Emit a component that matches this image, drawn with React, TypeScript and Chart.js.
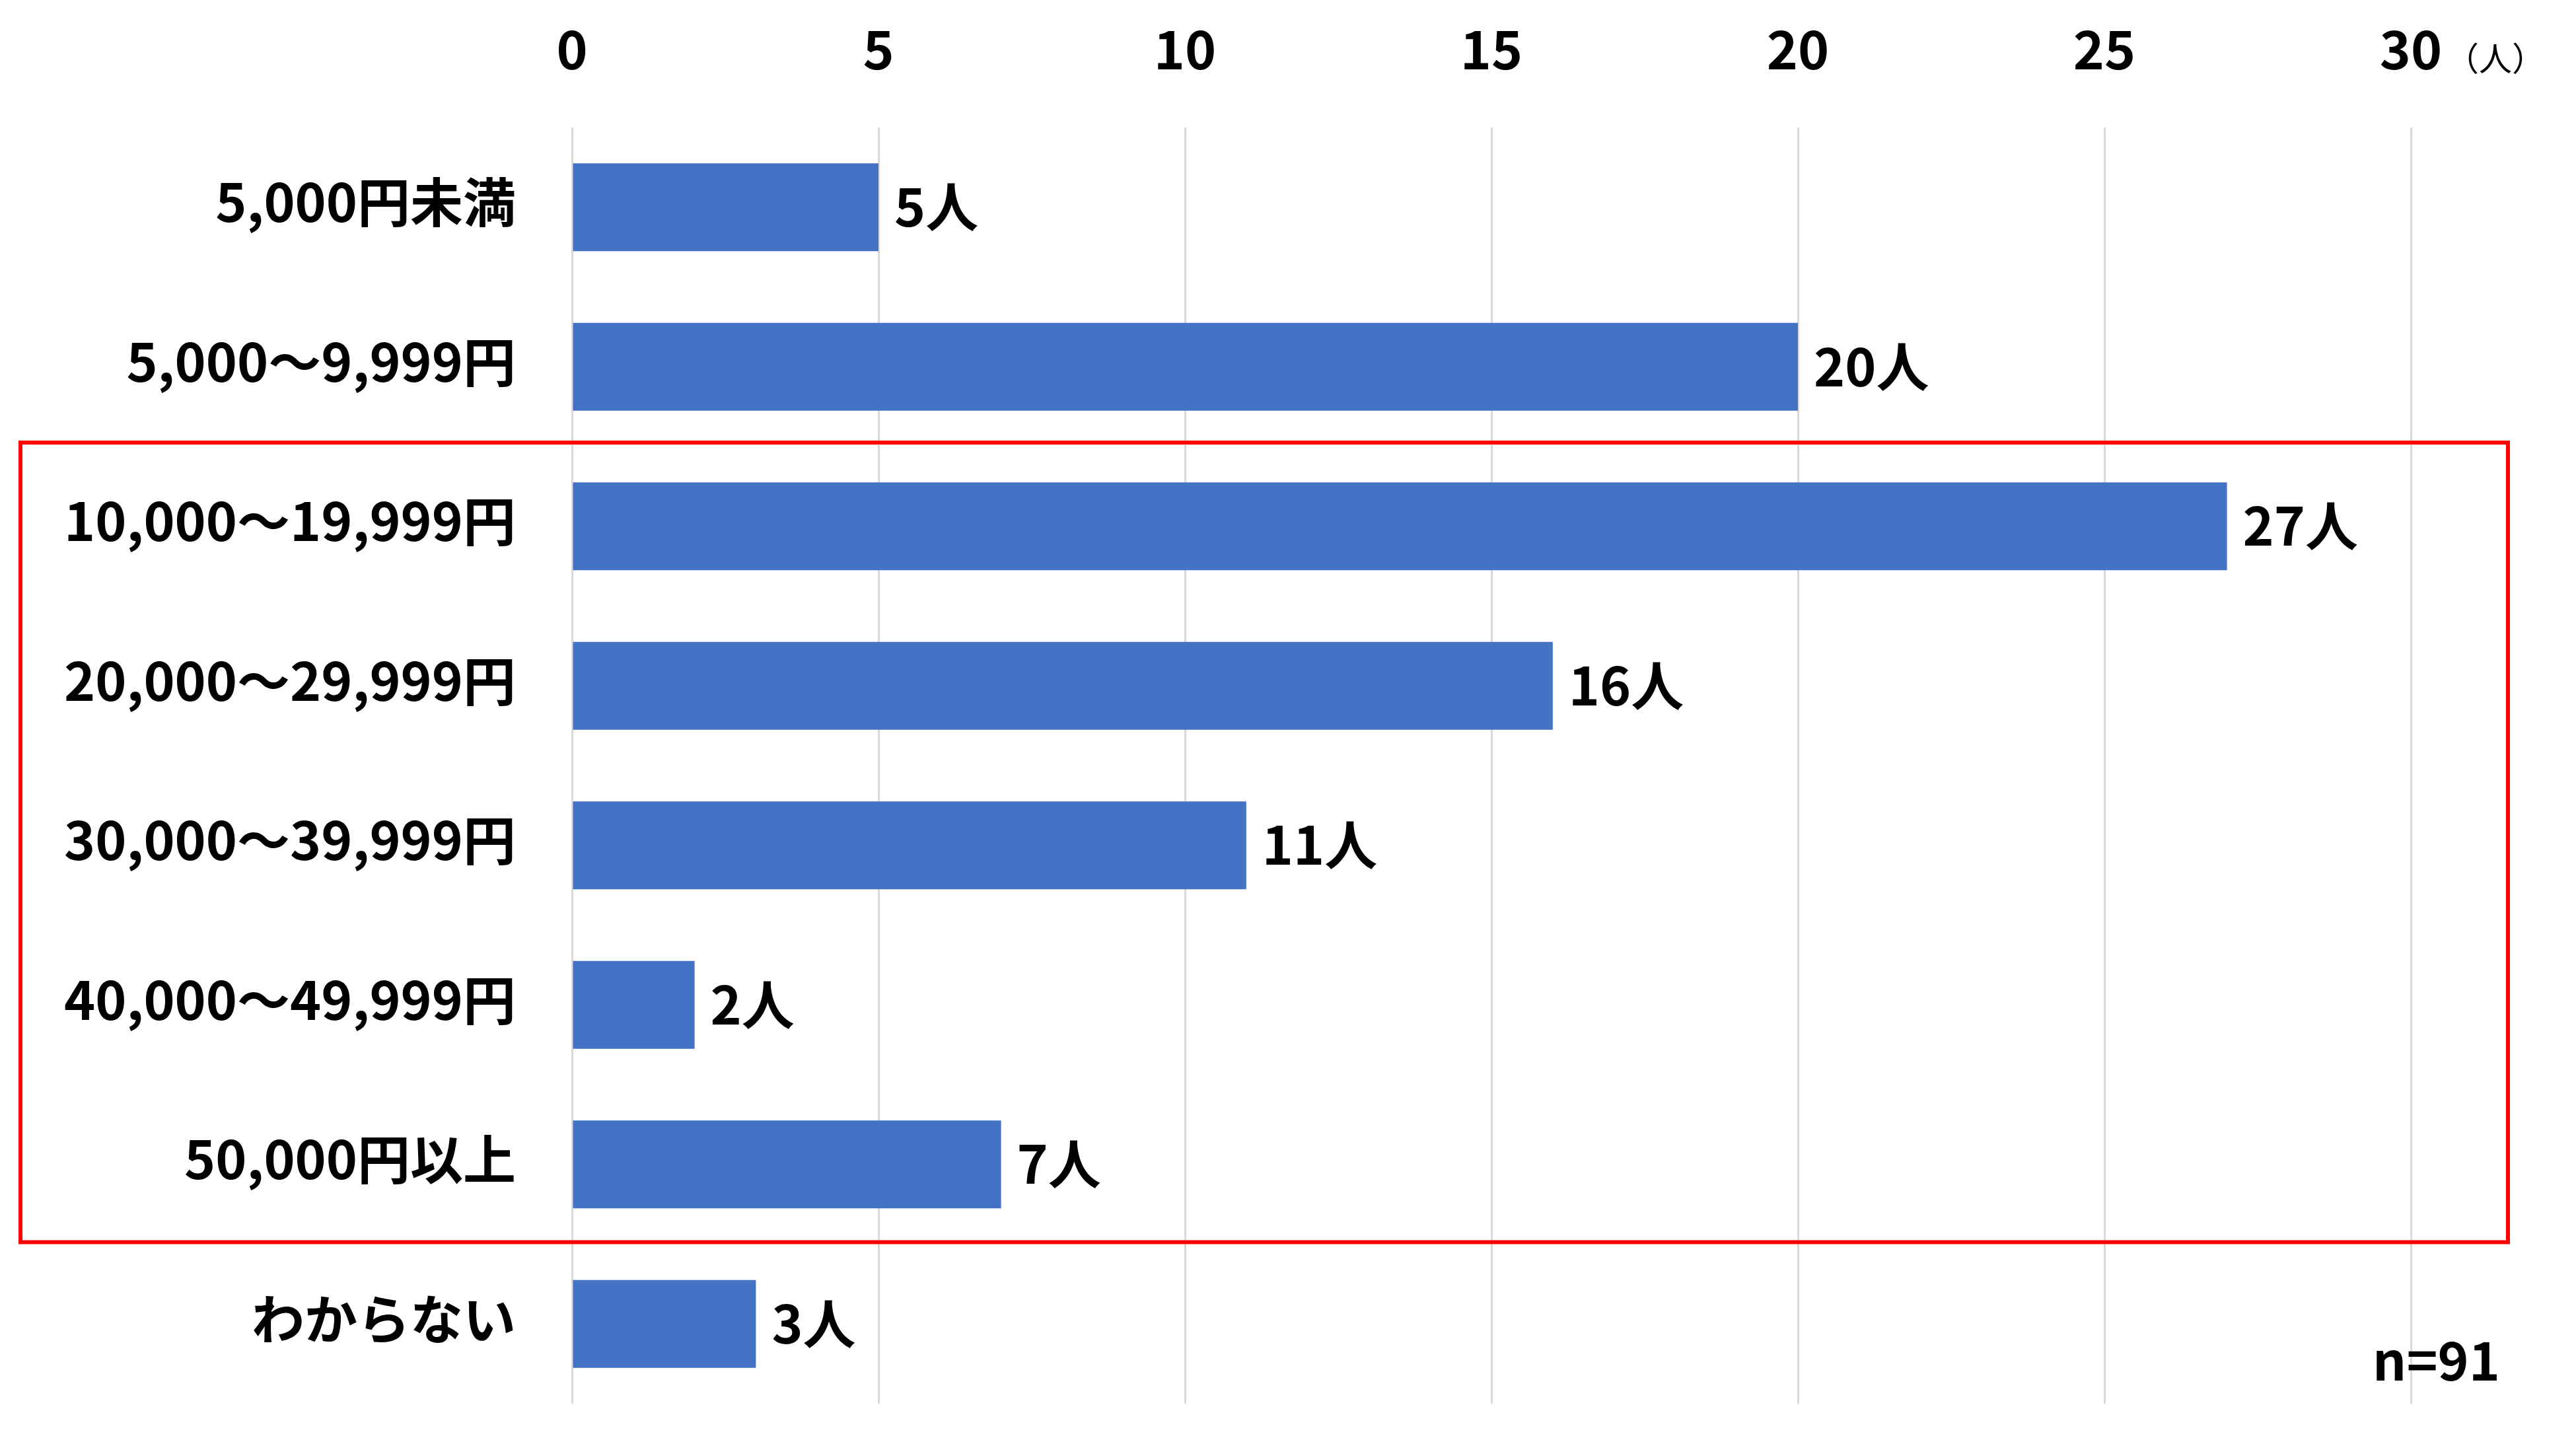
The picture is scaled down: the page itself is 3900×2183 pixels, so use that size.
import React, { useEffect, useRef } from "react";
import { Chart, registerables } from "chart.js";

Chart.register(...registerables);

const categories = [
  "5,000円未満",
  "5,000～9,999円",
  "10,000～19,999円",
  "20,000～29,999円",
  "30,000～39,999円",
  "40,000～49,999円",
  "50,000円以上",
  "わからない",
];
const counts = [5, 20, 27, 16, 11, 2, 7, 3];
const valueSuffix = "人";
const unitLabel = "（人）";
const sampleNote = "n=91";
const highlightFrom = 2;
const highlightTo = 6;

const FONT = '"Noto Sans CJK JP", "Noto Sans", sans-serif';
const FS = 80;

const overlayPlugin = {
  id: "overlay",
  afterDatasetsDraw(chart: any) {
    const ctx = chart.ctx;
    const meta = chart.getDatasetMeta(0);
    ctx.save();
    ctx.fillStyle = "#000000";
    ctx.font = `bold ${FS}px ${FONT}`;
    ctx.textAlign = "left";
    ctx.textBaseline = "middle";
    meta.data.forEach((bar: any, i: number) => {
      ctx.fillText(`${counts[i]}${valueSuffix}`, bar.x + 24, bar.y - 1);
    });
    ctx.restore();
  },
  afterDraw(chart: any) {
    const ctx = chart.ctx;
    const y = chart.scales.y;
    const x = chart.scales.x;
    ctx.save();
    const top = (y.getPixelForTick(highlightFrom - 1) + y.getPixelForTick(highlightFrom)) / 2 - 6;
    const bottom = (y.getPixelForTick(highlightTo) + y.getPixelForTick(highlightTo + 1)) / 2 - 3;
    ctx.strokeStyle = "#ff0000";
    ctx.lineWidth = 6;
    ctx.strokeRect(31, top, 3797 - 31, bottom - top);
    ctx.fillStyle = "#000000";
    ctx.font = `50px ${FONT}`;
    ctx.textAlign = "center";
    ctx.textBaseline = "middle";
    ctx.fillText(unitLabel, x.right + 128, 88);
    ctx.font = `bold ${FS}px ${FONT}`;
    ctx.textAlign = "right";
    ctx.textBaseline = "alphabetic";
    ctx.fillText(sampleNote, 3785, 2090);
    ctx.restore();
  },
};

export default function App() {
  const ref = useRef<HTMLCanvasElement | null>(null);
  useEffect(() => {
    document.body.style.margin = "0";
    const canvas = ref.current;
    if (!canvas) return;
    const chart = new Chart(canvas, {
      type: "bar",
      data: {
        labels: categories,
        datasets: [
          {
            data: counts,
            backgroundColor: "#4472C4",
            categoryPercentage: 1,
            barPercentage: 0.55,
          },
        ],
      },
      options: {
        indexAxis: "y",
        animation: false,
        responsive: true,
        maintainAspectRatio: false,
        devicePixelRatio: 1,
        layout: { padding: { top: 0, left: 0, right: 250, bottom: 58 } },
        plugins: {
          legend: { display: false },
          tooltip: { enabled: false },
        },
        scales: {
          x: {
            position: "top",
            min: 0,
            max: 30,
            ticks: {
              stepSize: 5,
              color: "#000000",
              font: { family: FONT, size: FS, weight: "bold" },
              padding: 70,
            },
            grid: { color: "#d9d9d9", lineWidth: 3, drawTicks: false },
            border: { display: false },
            afterFit: (scale: any) => {
              scale.height = 193;
              scale.paddingLeft = 0;
              scale.paddingRight = 0;
            },
          },
          y: {
            ticks: {
              color: "#000000",
              font: { family: FONT, size: FS, weight: "bold" },
              padding: 85,
              labelOffset: -8,
            },
            grid: { display: false, drawTicks: false },
            border: { display: false },
            afterFit: (scale: any) => {
              scale.width = 866;
              scale.paddingTop = 0;
              scale.paddingBottom = 0;
            },
          },
        },
      },
      plugins: [overlayPlugin],
    });
    return () => chart.destroy();
  }, []);
  return (
    <div style={{ width: 3900, height: 2183, position: "relative", background: "#ffffff" }}>
      <canvas ref={ref} />
    </div>
  );
}
